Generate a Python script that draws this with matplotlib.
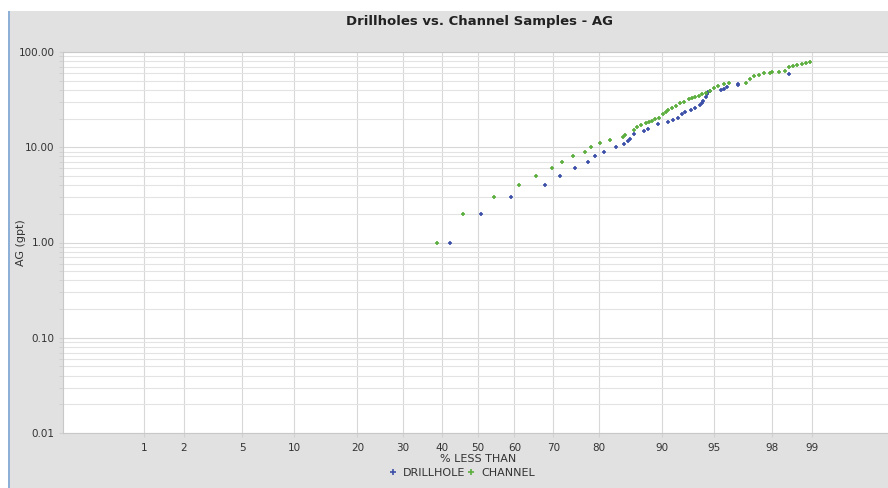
# probability plot of AG grades: drillholes vs channel samples
import numpy as np
import matplotlib
matplotlib.use('Agg')
import matplotlib.pyplot as plt
from matplotlib.patches import Rectangle
from statistics import NormalDist

# data (cumulative % less than, AG in gpt)
dh_pct = [42.2, 50.8, 59.2, 68.0, 71.7, 75.0, 77.8, 79.2, 81.1, 83.2, 84.6, 85.2,
          85.5, 86.2, 87.7, 88.2, 89.5, 90.7, 91.3, 91.8, 92.3, 92.6, 93.1, 93.5,
          93.9, 94.1, 94.2, 94.4, 94.5, 94.6, 94.7, 95.5, 95.7, 95.9, 96.5, 96.5, 98.5]
dh_ag = [1, 2, 3, 4, 5, 6, 7, 8, 9, 10, 10.7, 11.6,
         12.3, 13.7, 14.8, 15.6, 17.4, 18.5, 19.3, 20.2, 22.3, 23.4, 24.6, 26.0,
         27.5, 28.9, 30.8, 33.4, 35.9, 38.0, 39.3, 40.0, 40.6, 43.3, 44.7, 46.2, 58.8]

ch_pct = [38.7, 45.8, 54.5, 61.3, 65.6, 69.8, 72.1, 74.7, 77.2, 78.5, 80.2, 82.2,
          84.4, 84.8, 86.2, 86.6, 87.2, 87.9, 88.4, 88.8, 89.2, 89.6, 90.2, 90.5,
          90.8, 91.2, 91.6, 92.1, 92.5, 92.9, 93.2, 93.5, 93.8, 94.1, 94.4, 94.7,
          95.0, 95.3, 95.7, 96.0, 96.9, 97.1, 97.3, 97.5, 97.7, 97.9, 98.0, 98.2,
          98.4, 98.5, 98.6, 98.7, 98.8, 98.9, 98.97]
ch_ag = [1, 2, 3, 4, 5, 6, 7, 8, 9, 10, 11, 12,
         12.8, 13.6, 15.2, 16.2, 17.1, 17.8, 18.5, 19.0, 19.8, 20.2, 22.3, 23.5,
         24.6, 25.8, 27.1, 28.9, 30.2, 31.8, 32.5, 33.4, 34.7, 35.9, 37.5, 39.0,
         41.5, 44.3, 46.2, 47.0, 47.6, 52.5, 56.0, 57.5, 59.7, 60.5, 61.2, 62.0,
         63.0, 70.2, 72.0, 73.6, 75.0, 76.0, 79.0]

x_ticks = [1, 2, 5, 10, 20, 30, 40, 50, 60, 70, 80, 90, 95, 98, 99]
y_ticks = [0.01, 0.1, 1, 10, 100]

# normal probability scale
_nd = NormalDist()
_ppf = np.vectorize(_nd.inv_cdf, otypes=[float])
_cdf = np.vectorize(_nd.cdf, otypes=[float])


def fwd(p):
    p = np.clip(np.asarray(p, dtype=float) / 100.0, 1e-9, 1 - 1e-9)
    return _ppf(p)


def inv(z):
    return _cdf(np.asarray(z, dtype=float)) * 100.0


bg = '#e1e1e1'
grid_c = '#e3e3e3'
txt_c = '#333333'

fig = plt.figure(figsize=(8.88, 4.88), dpi=100)
fig.patch.set_facecolor(bg)
# white strips at top and left, thin blue frame line
fig.patches.append(Rectangle((0, 1 - 11 / 488), 1, 11 / 488, transform=fig.transFigure,
                             facecolor='white', edgecolor='none', zorder=0))
fig.patches.append(Rectangle((0, 0), 8 / 888, 1, transform=fig.transFigure,
                             facecolor='white', edgecolor='none', zorder=0))
fig.patches.append(Rectangle((8 / 888, 0), 1.5 / 888, 1 - 11 / 488, transform=fig.transFigure,
                             facecolor='#8fb0d6', edgecolor='none', zorder=1))

ax = fig.add_axes([63 / 888, 55 / 488, 830 / 888, 381 / 488])
ax.set_facecolor('white')
ax.set_xscale('function', functions=(fwd, inv))
ax.set_yscale('log')
ax.set_xlim(0.19, 99.81)
ax.set_ylim(0.01, 100)

ax.set_xticks(x_ticks)
ax.set_xticklabels([str(t) for t in x_ticks])
ax.xaxis.set_minor_locator(matplotlib.ticker.NullLocator())
ax.set_yticks(y_ticks)
ax.set_yticklabels(['%.2f' % t for t in y_ticks])
ax.yaxis.set_minor_locator(matplotlib.ticker.LogLocator(base=10, subs=np.arange(2, 10)))
ax.yaxis.set_minor_formatter(matplotlib.ticker.NullFormatter())

ax.grid(True, which='major', axis='both', color='#d8d8d8', linewidth=0.8)
ax.grid(True, which='minor', axis='y', color=grid_c, linewidth=0.8)
ax.set_axisbelow(True)
ax.tick_params(axis='both', which='both', colors='#d0d0d0', labelcolor=txt_c,
               labelsize=7.5, length=3)
ax.tick_params(axis='y', pad=3)
ax.tick_params(axis='x', pad=4)
for s in ax.spines.values():
    s.set_color('#c8c8c8')
    s.set_linewidth(0.8)

ax.plot(dh_pct, dh_ag, linestyle='none', marker='+', markersize=3, mew=1.2,
        color='#3d50a8', label='DRILLHOLE')
ax.plot(ch_pct, ch_ag, linestyle='none', marker='+', markersize=3, mew=1.2,
        color='#5cae3e', label='CHANNEL')

ax.set_xlabel('% LESS THAN', fontsize=8, color=txt_c, labelpad=1)
ax.set_ylabel('AG (gpt)', fontsize=8, color=txt_c)
ax.yaxis.set_label_coords(-0.045, 0.5)
fig.text(0.54, 1 - 21 / 488, 'Drillholes vs. Channel Samples - AG', ha='center',
         va='center', fontsize=9.5, fontweight='bold', color='#222222')

leg = fig.legend(loc='center', bbox_to_anchor=(0.52, 1 - 473 / 488), ncol=2,
                 frameon=False, fontsize=8, handlelength=0.8, handletextpad=0.5,
                 columnspacing=0.1, markerscale=1.5)
for t in leg.get_texts():
    t.set_color(txt_c)

fig.savefig('out.png', dpi=100, facecolor=bg)
